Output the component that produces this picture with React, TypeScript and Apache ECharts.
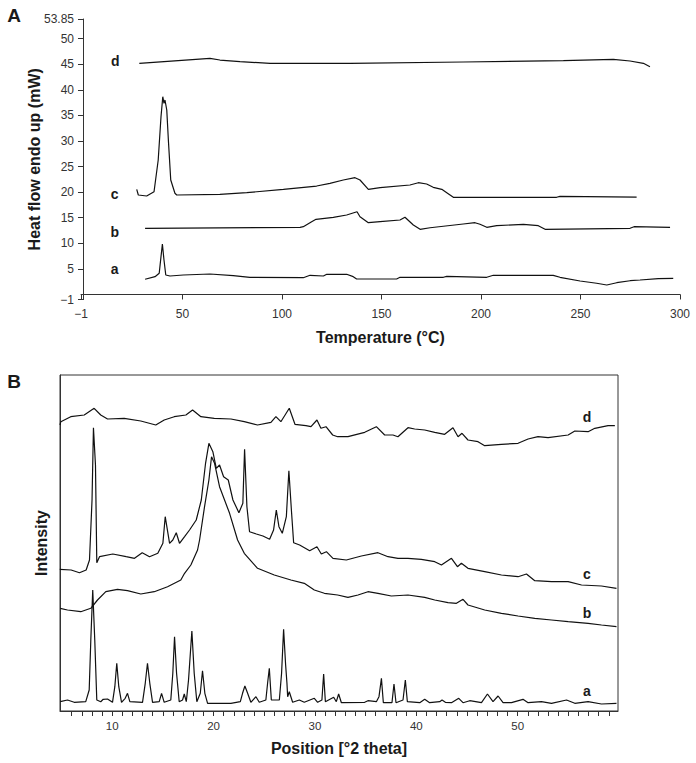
import React, { useEffect, useRef } from "react";
import * as echarts from "echarts";

// ---------- Panel A: DSC ----------
const dscTempTicks = [-1, 50, 100, 150, 200, 250, 300];
const dscHeatTicks = [-1, 5, 10, 15, 20, 25, 30, 35, 40, 45, 50, 53.85];

const dscA = [[31.2,2.97],[36.2,3.48],[38.3,4.14],[39.2,7.39],[39.9,9.87],[40.7,6.74],[41.6,3.81],[43.7,3.61],[50.4,3.81],[63.8,4.0],[75.5,3.67],[83.9,3.36],[110.7,3.28],[114.1,3.75],[120.8,3.61],[122.5,3.95],[132.5,3.95],[135.8,3.48],[137.5,3.03],[157.6,3.03],[159.3,3.36],[181.1,3.36],[182.8,3.55],[202.9,3.36],[206.2,3.75],[236.3,3.75],[239.7,3.36],[249.8,2.64],[258.1,2.19],[263.2,1.85],[268.2,2.3],[274.9,2.69],[279.9,2.83],[289.1,3.09],[296.6,3.16]];
const dscB = [[31.2,12.94],[109.1,13.13],[110.7,13.25],[114.9,14.23],[117.1,14.7],[125.8,15.09],[132.5,15.54],[137.7,16.18],[139.2,15.2],[143.4,14.03],[149.3,14.23],[159.3,14.56],[161.8,15.09],[166.0,13.58],[169.4,12.74],[174.4,13.05],[191.1,13.78],[197.0,14.03],[199.5,13.72],[202.9,13.13],[207.9,13.45],[221.3,13.72],[228.8,13.45],[232.2,12.74],[274.9,12.94],[276.9,13.25],[295.0,13.13]];
const dscC = [[27.0,20.56],[27.8,19.45],[32.0,19.25],[35.7,20.09],[37.8,26.29],[39.2,34.75],[40.1,38.66],[40.7,37.37],[41.2,38.02],[42.1,36.06],[42.9,30.2],[44.1,22.38],[46.2,19.78],[47.1,19.45],[68.8,19.58],[82.3,19.9],[100.7,20.56],[117.4,21.2],[124.1,21.73],[130.8,22.38],[136.7,22.83],[139.2,22.38],[143.4,20.56],[149.3,20.87],[164.3,21.4],[168.5,21.85],[172.7,21.6],[176.0,20.95],[180.3,20.56],[182.8,19.9],[186.1,19.0],[238.0,19.0],[239.7,19.19],[278.2,19.05]];
const dscD = [[28.3,45.19],[63.8,46.17],[68.8,45.83],[78.9,45.5],[94.0,45.19],[134.2,45.19],[191.1,45.44],[241.4,45.7],[266.5,45.97],[274.9,45.64],[281.6,45.19],[284.9,44.52]];

// ---------- Panel B: XRD ----------
const xrdAngleLabels = [10, 20, 30, 40, 50];
const xrdAngleTicks = [6,7,8,9,10,11,12,13,14,15,16,17,18,19,20,21,22,23,24,25,26,27,28,29,30,31,32,33,34,35,36,37,38,39,40,41,42,43,44,45,46,47,48,49,50,51,52,53,54,55,56,57,58,59];

const xrdA = [[4.87,9.3],[5.59,11],[6.25,8.7],[7.39,9.3],[7.73,21],[7.89,71],[8.08,121],[8.28,71],[8.48,11],[8.87,9.3],[9.11,11.7],[9.54,12],[10.03,8.7],[10.26,24.3],[10.45,47.7],[10.65,24.3],[10.92,8.7],[11.28,12.7],[11.51,17.7],[11.74,9.3],[12.99,8.7],[13.26,27.7],[13.48,47.7],[13.71,27.7],[13.98,8.7],[14.64,9.3],[14.87,17.7],[15.13,8.7],[15.78,11],[15.98,37.7],[16.15,74.3],[16.35,37.7],[16.61,9.3],[16.94,11],[17.11,17],[17.31,9.3],[17.53,31],[17.86,80],[18.09,37.7],[18.35,9.3],[18.69,17.7],[18.91,40.3],[19.14,17.7],[19.41,7.7],[20.39,7.7],[21.71,7.7],[22.64,9.3],[22.86,17.7],[23.09,25],[23.36,17.7],[23.68,8.7],[24.18,14.3],[24.51,8.7],[25.16,11],[25.33,27.7],[25.50,42.7],[25.70,11],[26.49,11],[26.71,37.7],[26.91,81.7],[27.11,46],[27.24,27.7],[27.31,14.3],[27.47,19.3],[27.80,8.7],[28.46,11],[28.95,8.7],[29.94,12.7],[30.27,8.7],[30.69,11],[30.86,37],[31.03,9.3],[31.85,13.7],[32.11,9.3],[32.34,17],[32.61,8.3],[34.91,8.7],[35.23,10.3],[36.06,9.3],[36.32,14.3],[36.56,32.7],[36.75,8.3],[37.60,8.3],[37.80,27],[38.00,8.3],[38.69,11],[38.92,31],[39.12,9.3],[40.34,8.3],[40.83,11.7],[41.32,8.3],[42.31,9.3],[42.54,11],[42.87,8.7],[43.47,8.3],[44.19,12.7],[44.61,8.3],[45.27,10.3],[46.43,8.3],[47.02,17],[47.57,9.3],[48.07,15],[48.56,8.3],[49.39,8.3],[50.53,11.7],[51.03,8.3],[52.35,9.3],[53.34,7.7],[54.82,11],[55.64,7.7],[56.95,9.3],[58.27,7],[59.75,7.7]];
const xrdB = [[4.87,102.7],[5.59,101],[6.90,99.3],[7.89,102.7],[8.55,111],[9.37,119.3],[10.52,121.7],[11.51,120.3],[12.82,117],[14.15,119.3],[15.46,124.3],[16.77,131],[17.14,137.7],[17.76,146],[18.42,161],[18.62,171],[19.11,204.3],[19.54,231],[19.80,254.3],[20.10,247.7],[20.59,224.3],[21.58,197.7],[22.37,171],[23.03,157.7],[24.34,142.7],[25.99,136],[27.63,131],[28.95,127.7],[29.94,121],[30.93,117.7],[32.24,116],[33.26,113.7],[34.25,116],[35.23,119.3],[36.22,117.7],[37.54,115],[39.18,116],[40.83,113.7],[41.82,111],[43.13,108.3],[43.96,107.7],[44.61,111.7],[45.10,106],[46.75,101],[48.40,97.7],[50.04,95],[51.69,92.7],[53.34,91],[54.98,89.3],[56.95,87.7],[58.27,86],[59.75,84.3]];
const xrdC = [[4.83,141.7],[5.95,141],[6.77,138.3],[7.43,141],[7.76,151],[8.01,211],[8.15,283.3],[8.35,246],[8.48,148.3],[8.75,154.3],[10.06,157],[11.38,154.3],[12.20,152.7],[12.96,158.3],[13.68,154.3],[14.50,157.7],[15.00,167.7],[15.23,194.3],[15.66,167.7],[15.98,171],[16.32,178.3],[16.64,167.7],[17.14,174.3],[17.63,181],[18.29,191],[18.79,211],[19.21,247.7],[19.54,267.7],[19.93,259.3],[20.27,242.7],[20.59,246],[20.99,234.3],[21.45,231],[21.91,211],[22.50,198.3],[22.89,207.7],[23.06,261.7],[23.29,204.3],[23.55,179.3],[24.22,177],[24.87,175],[25.53,171.7],[25.92,181],[26.19,201],[26.45,184.3],[26.78,177.7],[27.18,194.3],[27.43,240.3],[27.70,197.7],[27.90,168.3],[28.49,166],[29.48,160.3],[30.20,164.3],[30.63,157],[31.13,159.3],[31.78,152.7],[33.10,151],[34.58,155],[36.22,158.3],[37.21,154.3],[38.19,152.7],[39.18,152.7],[40.50,151.7],[41.82,149.3],[42.48,146],[43.47,152.7],[44.06,144.3],[44.45,147.7],[45.10,142.7],[46.75,139.3],[48.40,136],[50.04,134.3],[50.87,137],[51.69,130.3],[53.34,129.3],[54.98,129.3],[56.30,126],[58.27,125],[59.75,122.7]];
const xrdD = [[4.85,286],[4.93,289.3],[5.91,294.3],[7.24,296],[8.22,302.7],[8.87,296],[9.54,292],[11.18,292.7],[12.82,290],[14.30,286],[15.13,291],[16.12,294.3],[17.27,296],[17.93,301],[18.75,294.3],[20.07,292.7],[21.71,292],[23.03,289.3],[24.34,286],[25.66,288.7],[26.15,294.3],[26.64,289.3],[27.47,302.7],[28.03,286.7],[29.11,285.3],[29.61,284.3],[30.20,291],[30.59,282.7],[31.09,284.3],[31.75,276],[32.24,274.3],[33.26,274.3],[34.91,278.7],[36.06,284.3],[36.88,276],[37.70,276],[38.19,274.3],[39.18,283.3],[39.84,282],[40.83,281],[41.82,278.7],[42.80,276.7],[43.62,283.3],[44.12,274.3],[44.51,277.7],[45.10,271],[46.09,269.3],[46.75,265.3],[48.40,266.7],[50.04,267.7],[51.03,272],[52.01,274.3],[53.00,273.3],[54.98,276],[55.64,280],[56.95,279.3],[57.61,282.7],[58.92,285.3],[59.59,285.3]];

const FONT = "'Liberation Sans', Arial, Helvetica, sans-serif";
const AXIS = "#333";
const LINE = "#111";

const fmtMinus = (v: number) => String(v).replace("-", "\u2212");

function lineSeries(data: number[][], idx: number) {
  return {
    type: "line",
    xAxisIndex: idx,
    yAxisIndex: idx,
    data,
    symbol: "none",
    showSymbol: false,
    silent: true,
    lineStyle: { color: LINE, width: 1.2 },
  };
}

function label(text: string, x: number, y: number, size: number) {
  return {
    type: "text",
    x,
    y,
    silent: true,
    style: {
      text,
      fill: "#1a1a1a",
      font: `bold ${size}px ${FONT}`,
      textAlign: "center",
      textVerticalAlign: "middle",
      align: "center",
      verticalAlign: "middle",
    },
  };
}

export default function App() {
  const ref = useRef<HTMLDivElement>(null);
  useEffect(() => {
    if (!ref.current) return;
    const chart = echarts.init(ref.current, null, { renderer: "svg" });
    chart.setOption({
      animation: false,
      textStyle: { fontFamily: FONT },
      grid: [
        { left: 81, top: 19, right: 16, bottom: 463.4, containLabel: false, outerBoundsMode: "none" },
        { left: 60, top: 375, right: 78, bottom: 52, containLabel: false, outerBoundsMode: "none", show: true, borderColor: AXIS, borderWidth: 1, backgroundColor: "transparent" },
      ],
      xAxis: [
        {
          type: "value", gridIndex: 0, min: -1, max: 300,
          axisLine: { show: true, lineStyle: { color: AXIS, width: 1 } },
          axisTick: { show: true, length: 5, customValues: dscTempTicks, lineStyle: { color: AXIS } },
          axisLabel: { customValues: dscTempTicks, formatter: fmtMinus, fontSize: 12, color: "#333", margin: 8, fontFamily: FONT },
          splitLine: { show: false },
          name: "Temperature (°C)", nameLocation: "middle", nameGap: 30, nameMoveOverlap: false,
          nameTextStyle: { fontSize: 16, fontWeight: "bold", color: "#1a1a1a", fontFamily: FONT },
        },
        {
          type: "value", gridIndex: 1, min: 4.85, max: 59.9,
          axisLine: { show: true, lineStyle: { color: AXIS, width: 1 } },
          axisTick: { show: true, length: 5, customValues: xrdAngleTicks, lineStyle: { color: AXIS } },
          axisLabel: { customValues: xrdAngleLabels, fontSize: 11.5, color: "#333", margin: 9, fontFamily: FONT },
          splitLine: { show: false },
          name: "Position [°2 theta]", nameLocation: "middle", nameGap: 29, nameMoveOverlap: false,
          nameTextStyle: { fontSize: 16, fontWeight: "bold", color: "#1a1a1a", fontFamily: FONT },
        },
      ],
      yAxis: [
        {
          type: "value", gridIndex: 0, min: -1, max: 53.85,
          axisLine: { show: true, lineStyle: { color: AXIS, width: 1 } },
          axisTick: { show: true, length: 5, customValues: dscHeatTicks, lineStyle: { color: AXIS } },
          axisLabel: { customValues: dscHeatTicks, formatter: fmtMinus, fontSize: 12, color: "#333", margin: 7, fontFamily: FONT },
          splitLine: { show: false },
          name: "Heat flow endo up (mW)", nameLocation: "middle", nameGap: 39, nameMoveOverlap: false,
          nameTextStyle: { fontSize: 16, fontWeight: "bold", color: "#1a1a1a", fontFamily: FONT },
        },
        {
          type: "value", gridIndex: 1, min: 0, max: 336,
          axisLine: { show: true, lineStyle: { color: AXIS, width: 1 } },
          axisTick: { show: false },
          axisLabel: { show: false },
          splitLine: { show: false },
          name: "Intensity", nameLocation: "middle", nameGap: 11, nameMoveOverlap: false,
          nameTextStyle: { fontSize: 16, fontWeight: "bold", color: "#1a1a1a", fontFamily: FONT },
        },
      ],
      series: [
        lineSeries(dscA, 0), lineSeries(dscB, 0), lineSeries(dscC, 0), lineSeries(dscD, 0),
        lineSeries(xrdA, 1), lineSeries(xrdB, 1), lineSeries(xrdC, 1), lineSeries(xrdD, 1),
      ],
      graphic: [
        label("A", 14, 15, 19),
        label("B", 14, 381.3, 19),
        label("d", 115.3, 60.7, 14),
        label("c", 114.7, 194, 14),
        label("b", 114.7, 231.7, 14),
        label("a", 114.7, 269, 14),
        label("d", 587, 417.3, 14),
        label("c", 587, 574.3, 14),
        label("b", 587, 613.3, 14),
        label("a", 587, 691, 14),
      ],
    });
    return () => chart.dispose();
  }, []);
  return <div ref={ref} style={{ position: "absolute", left: 0, top: 0, width: 696, height: 763 }} />;
}
